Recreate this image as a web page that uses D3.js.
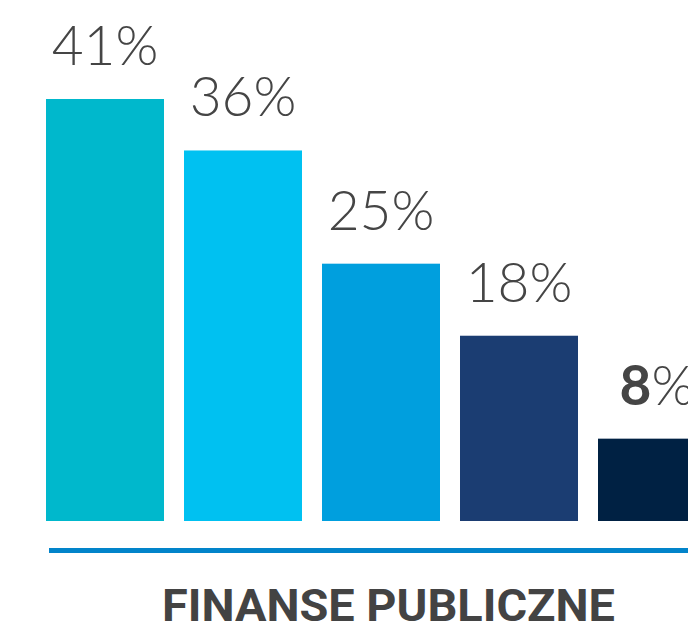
<!DOCTYPE html>
<html>
<head>
<meta charset="utf-8">
<script src="https://cdn.jsdelivr.net/npm/d3@7"></script>
<style>
  body { margin: 0; background: #fff; }
  svg { display: block; }
</style>
</head>
<body>
<div id="chart"></div>
<script>
// data
var categories = ["k1", "k2", "k3", "k4", "k5"];
var values = [41, 36, 25, 18, 8];
var barColors = ["#00B8CC", "#00C1F1", "#009FDE", "#1B3D72", "#002143"];
var highlight = "k5";
var title = "FINANSE PUBLICZNE";

var width = 688, height = 629;

var svg = d3.select("#chart")
  .append("svg")
  .attr("width", width)
  .attr("height", height);

// step 138, bar 118 wide; the last bar runs off the right edge
var x = d3.scaleBand()
  .domain(categories)
  .range([46, 46 + 138 * 5 - 20])
  .paddingInner(20 / 138)
  .paddingOuter(0);

var y = d3.scaleLinear()
  .domain([0, 41])
  .range([521, 99]);

// bars
svg.selectAll("rect.bar")
  .data(categories)
  .enter()
  .append("rect")
  .attr("class", "bar")
  .attr("x", function (d) { return x(d) })
  .attr("y", function (d, i) { return y(values[i]) })
  .attr("width", x.bandwidth())
  .attr("height", function (d, i) { return y(0) - y(values[i]) })
  .attr("fill", function (d, i) { return barColors[i] });

// value labels
var labels = svg.selectAll("text.val")
  .data(categories)
  .enter()
  .append("text")
  .attr("class", "val")
  .attr("x", function (d) { return x(d) + x.bandwidth() / 2 })
  .attr("y", function (d, i) { return y(values[i]) - 34 })
  .attr("text-anchor", "middle")
  .style("font-family", "Lato, 'Open Sans', sans-serif")
  .style("font-weight", 300)
  .style("font-size", "55px")
  .style("fill", "#454545");

labels.append("tspan")
  .style("font-weight", function (d) { return d == highlight ? 700 : 300 })
  .text(function (d, i) { return values[i] });
labels.append("tspan")
  .text("%");

// baseline rule
svg.append("line")
  .attr("x1", 49)
  .attr("x2", width)
  .attr("y1", 550.5)
  .attr("y2", 550.5)
  .attr("stroke", "#0284CA")
  .attr("stroke-width", 5);

// title
svg.append("text")
  .attr("x", 388.5)
  .attr("y", 621)
  .attr("text-anchor", "middle")
  .attr("textLength", 453)
  .attr("lengthAdjust", "spacingAndGlyphs")
  .style("font-family", "Roboto, 'Open Sans', sans-serif")
  .style("font-weight", 700)
  .style("font-size", "44px")
  .style("fill", "#434343")
  .text(title);
</script>
</body>
</html>
